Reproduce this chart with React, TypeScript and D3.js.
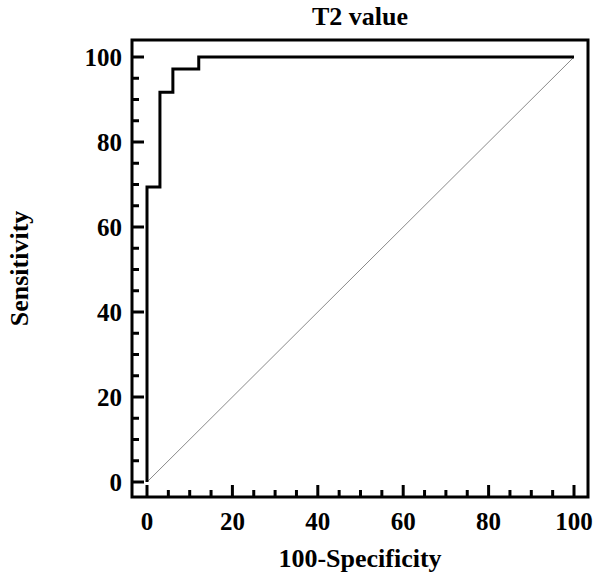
import React from "react";
import * as d3 from "d3";

const fprX: number[] = [0, 0, 3.03, 3.03, 6.06, 6.06, 12.12, 12.12, 100];
const tprY: number[] = [0, 69.4, 69.4, 91.7, 91.7, 97.2, 97.2, 100, 100];
const majorTicks: number[] = [0, 20, 40, 60, 80, 100];
const minorTicks: number[] = d3.range(0, 101, 5).filter((v) => v % 20 !== 0);
const title = "T2 value";
const xTitle = "100-Specificity";
const yTitle = "Sensitivity";

const W = 602;
const H = 586;
const frame = { left: 132, right: 588, top: 40, bottom: 497 };
const FONT = "'Liberation Serif', 'Times New Roman', serif";

export default function App() {
  const x = d3.scaleLinear().domain([0, 100]).range([147, 574]);
  const y = d3.scaleLinear().domain([0, 100]).range([482, 57]);
  const line = d3
    .line<number>()
    .x((_, i) => x(fprX[i]))
    .y((_, i) => y(tprY[i]));
  const rocPath = line(fprX) || "";
  const diag = d3.line<number>().x((d) => x(d)).y((d) => y(d))([0, 100]) || "";

  return (
    <svg
      width={W}
      height={H}
      style={{ position: "absolute", left: 0, top: 0, background: "#fff" }}
    >
      <text
        x={(frame.left + frame.right) / 2}
        y={25}
        textAnchor="middle"
        fontFamily={FONT}
        fontWeight="bold"
        fontSize={26}
      >
        {title}
      </text>
      {/* diagonal */}
      <path d={diag} stroke="#8a8a8a" strokeWidth={1} fill="none" />
      {/* ROC */}
      <path d={rocPath} stroke="#000" strokeWidth={3} fill="none" strokeLinejoin="miter" />
      {/* frame */}
      <rect
        x={frame.left}
        y={frame.top}
        width={frame.right - frame.left}
        height={frame.bottom - frame.top}
        fill="none"
        stroke="#000"
        strokeWidth={3}
      />
      {/* x ticks */}
      {majorTicks.map((t) => (
        <g key={"xm" + t}>
          <line x1={x(t)} x2={x(t)} y1={frame.bottom} y2={frame.bottom - 12} stroke="#000" strokeWidth={3} />
          <text
            x={x(t)}
            y={530}
            textAnchor="middle"
            fontFamily={FONT}
            fontWeight="bold"
            fontSize={25}
          >
            {t}
          </text>
        </g>
      ))}
      {minorTicks.map((t) => (
        <line key={"xn" + t} x1={x(t)} x2={x(t)} y1={frame.bottom} y2={frame.bottom - 7} stroke="#000" strokeWidth={3} />
      ))}
      {/* y ticks */}
      {majorTicks.map((t) => (
        <g key={"ym" + t}>
          <line x1={frame.left} x2={frame.left + 12} y1={y(t)} y2={y(t)} stroke="#000" strokeWidth={3} />
          <text
            x={122}
            y={y(t)}
            dy="0.35em"
            textAnchor="end"
            fontFamily={FONT}
            fontWeight="bold"
            fontSize={25}
          >
            {t}
          </text>
        </g>
      ))}
      {minorTicks.map((t) => (
        <line key={"yn" + t} x1={frame.left} x2={frame.left + 7} y1={y(t)} y2={y(t)} stroke="#000" strokeWidth={3} />
      ))}
      <text
        x={(frame.left + frame.right) / 2}
        y={567}
        textAnchor="middle"
        fontFamily={FONT}
        fontWeight="bold"
        fontSize={26}
      >
        {xTitle}
      </text>
      <text
        transform={`translate(28, ${(frame.top + frame.bottom) / 2}) rotate(-90)`}
        textAnchor="middle"
        fontFamily={FONT}
        fontWeight="bold"
        fontSize={26}
      >
        {yTitle}
      </text>
    </svg>
  );
}
